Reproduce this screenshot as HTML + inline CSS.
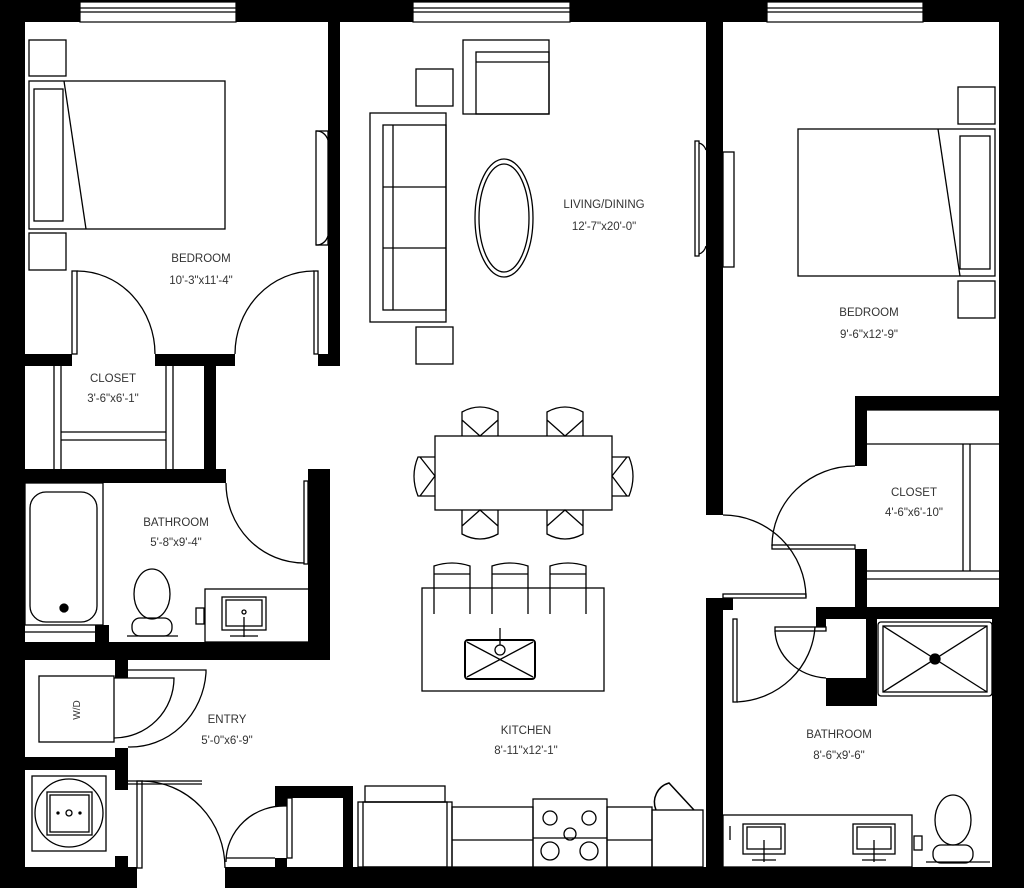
<!DOCTYPE html>
<html><head><meta charset="utf-8"><style>
html,body{margin:0;padding:0;background:#fff;}
svg{display:block;}
text{font-family:"Liberation Sans",sans-serif;font-size:11.5px;fill:#333;text-anchor:middle;}
</style></head><body>
<svg width="1024" height="888" viewBox="0 0 1024 888" xmlns="http://www.w3.org/2000/svg">
<g fill="#000">
<!-- outer walls -->
<rect x="0" y="0" width="1024" height="22"/>
<rect x="0" y="0" width="25" height="888"/>
<rect x="999" y="0" width="25" height="888"/>
<rect x="0" y="867" width="1024" height="21"/>
<!-- left bedroom/living wall -->
<rect x="328" y="22" width="12" height="344"/>
<rect x="25" y="354" width="47" height="12"/>
<rect x="155" y="354" width="80" height="12"/>
<rect x="318" y="354" width="22" height="12"/>
<rect x="204" y="366" width="12" height="104"/>
<!-- left bath -->
<rect x="25" y="469" width="201" height="14"/>
<rect x="308" y="469" width="22" height="191"/>
<rect x="25" y="642" width="305" height="18"/>
<rect x="95" y="625" width="14" height="17"/>
<!-- laundry / heater -->
<rect x="115" y="660" width="13" height="18"/>
<rect x="115" y="748" width="13" height="42"/>
<rect x="0" y="757" width="128" height="13"/>
<rect x="115" y="856" width="13" height="12"/>
<rect x="125" y="867" width="12" height="21"/>
<rect x="137" y="867" width="88" height="21" fill="#fff"/>
<!-- pantry -->
<rect x="275" y="786" width="78" height="12"/>
<rect x="275" y="786" width="12" height="20"/>
<rect x="275" y="858" width="12" height="10"/>
<rect x="343" y="786" width="10" height="82"/>
<!-- middle wall -->
<rect x="706" y="22" width="17" height="493"/>
<rect x="706" y="598" width="17" height="270"/>
<rect x="723" y="598" width="10" height="12"/>
<!-- right closet -->
<rect x="855" y="396" width="144" height="14"/>
<rect x="855" y="396" width="12" height="70"/>
<rect x="855" y="549" width="12" height="59"/>
<rect x="816" y="607" width="208" height="12"/>
<rect x="866" y="607" width="11" height="99"/>
<rect x="826" y="678" width="51" height="28"/>
<rect x="816" y="619" width="10" height="8"/>
<rect x="992" y="619" width="32" height="269"/>
</g>
<g fill="#fff" stroke="#000" stroke-width="1.2">
<!-- windows -->
<rect x="80" y="2" width="156" height="20"/><line x1="80" y1="8" x2="236" y2="8"/><line x1="80" y1="12" x2="236" y2="12"/>
<rect x="413" y="2" width="157" height="20"/><line x1="413" y1="8" x2="570" y2="8"/><line x1="413" y1="12" x2="570" y2="12"/>
<rect x="767" y="2" width="156" height="20"/><line x1="767" y1="8" x2="923" y2="8"/><line x1="767" y1="12" x2="923" y2="12"/>
</g>
<g fill="none" stroke="#000" stroke-width="1.3">
<!-- left bedroom -->
<rect x="29" y="40" width="37" height="36"/>
<rect x="29" y="233" width="37" height="37"/>
<rect x="29" y="81" width="196" height="148"/>
<rect x="34" y="89" width="29" height="132"/>
<line x1="64" y1="81" x2="86" y2="229"/>
<rect x="316" y="131" width="12" height="114"/>
<path d="M316 131 A12 14 0 0 1 328 140 M316 245 A12 14 0 0 0 328 236"/>
<rect x="72" y="271" width="5" height="83"/>
<path d="M77 271 A78 83 0 0 1 155 354"/>
<rect x="314" y="271" width="4" height="83"/>
<path d="M314 271 A79 83 0 0 0 235 354"/>
<!-- closet -->
<line x1="54" y1="366" x2="54" y2="469"/><line x1="61" y1="366" x2="61" y2="469"/>
<line x1="166" y1="366" x2="166" y2="469"/><line x1="173" y1="366" x2="173" y2="469"/>
<line x1="61" y1="432" x2="166" y2="432"/><line x1="61" y1="440" x2="166" y2="440"/>
<!-- living -->
<rect x="463" y="40" width="86" height="74"/>
<rect x="476" y="52" width="73" height="62"/><line x1="476" y1="62" x2="549" y2="62"/>
<rect x="416" y="69" width="37" height="37"/>
<rect x="370" y="113" width="76" height="209"/>
<rect x="383" y="125" width="63" height="185"/>
<line x1="393" y1="125" x2="393" y2="310"/>
<line x1="383" y1="187" x2="446" y2="187"/><line x1="383" y1="248" x2="446" y2="248"/>
<rect x="416" y="327" width="37" height="37"/>
<ellipse cx="504" cy="218" rx="29" ry="59"/>
<ellipse cx="504" cy="218" rx="25" ry="54"/>
<rect x="695" y="141" width="4" height="115"/>
<path d="M699 143 A10 12 0 0 1 706 150 M699 254 A10 12 0 0 0 706 246"/>
<rect x="723" y="152" width="11" height="115"/>
<!-- right bedroom -->
<rect x="958" y="87" width="37" height="37"/>
<rect x="958" y="281" width="37" height="37"/>
<rect x="798" y="129" width="197" height="147"/>
<rect x="960" y="136" width="30" height="133"/>
<line x1="938" y1="129" x2="960" y2="276"/>
<!-- right closet -->
<line x1="867" y1="410" x2="999" y2="410"/>
<line x1="963" y1="444" x2="963" y2="571"/><line x1="970" y1="444" x2="970" y2="571"/>
<line x1="867" y1="444" x2="999" y2="444"/>
<line x1="867" y1="571" x2="999" y2="571"/><line x1="867" y1="579" x2="999" y2="579"/>
<rect x="772" y="545" width="83" height="4"/>
<path d="M772 546 A83 80 0 0 1 855 466"/>
<!-- hall door -->
<rect x="723" y="594" width="83" height="4"/>
<path d="M723 515 A83 83 0 0 1 806 597"/>
<!-- right bath door -->
<rect x="733" y="619" width="4" height="83"/>
<path d="M737 702 A82 80 0 0 0 815 627"/>
<rect x="775" y="627" width="51" height="4"/>
<path d="M775 631 A55 49 0 0 0 826 678"/>
<!-- shower -->
<rect x="878" y="622" width="114" height="74" rx="3"/>
<rect x="883" y="626" width="104" height="66"/>
<line x1="883" y1="626" x2="987" y2="692"/><line x1="987" y1="626" x2="883" y2="692"/>
<circle cx="935" cy="659" r="5" fill="#000"/>
<!-- right bath vanity -->
<rect x="723" y="815" width="189" height="52"/>
<rect x="743" y="824" width="42" height="30"/><rect x="747" y="827" width="34" height="22"/>
<rect x="853" y="824" width="42" height="30"/><rect x="857" y="827" width="34" height="22"/>
<line x1="764" y1="840" x2="764" y2="862"/><line x1="874" y1="840" x2="874" y2="862"/>
<line x1="752" y1="860" x2="776" y2="860"/><line x1="862" y1="860" x2="886" y2="860"/>
<ellipse cx="953" cy="820" rx="18" ry="25"/>
<rect x="933" y="845" width="40" height="18" rx="8"/>
<line x1="926" y1="862" x2="990" y2="862"/>
<rect x="914" y="836" width="8" height="14"/>
<line x1="730" y1="826" x2="730" y2="840"/>
<!-- dining -->
<rect x="435" y="436" width="177" height="74"/>
<path d="M462 436 L462 412 Q480 402 498 412 L498 436 M462 420 L480 436 L498 420"/>
<path d="M547 436 L547 412 Q565 402 583 412 L583 436 M547 420 L565 436 L583 420"/>
<path d="M462 510 L462 534 Q480 544 498 534 L498 510 M462 526 L480 510 L498 526"/>
<path d="M547 510 L547 534 Q565 544 583 534 L583 510 M547 526 L565 510 L583 526"/>
<path d="M435 457 L418 457 Q410 476 418 496 L435 496 M420 457 L435 476 L420 496"/>
<path d="M612 457 L629 457 Q637 476 629 496 L612 496 M627 457 L612 476 L627 496"/>
<!-- island -->
<rect x="422" y="588" width="182" height="103"/>
<path d="M434 614 L434 566 Q452 560 470 566 L470 614 M434 574 L470 574"/>
<path d="M492 614 L492 566 Q510 560 528 566 L528 614 M492 574 L528 574"/>
<path d="M550 614 L550 566 Q568 560 586 566 L586 614 M550 574 L586 574"/>
<rect x="465" y="640" width="70" height="39" rx="3" stroke-width="2"/>
<line x1="467" y1="642" x2="533" y2="677"/><line x1="533" y1="642" x2="467" y2="677"/>
<circle cx="500" cy="650" r="5"/><line x1="500" y1="628" x2="500" y2="645"/>
<!-- kitchen -->
<rect x="365" y="786" width="80" height="16"/>
<rect x="358" y="802" width="94" height="65"/>
<rect x="363" y="802" width="84" height="65"/>
<rect x="452" y="807" width="81" height="60"/><line x1="452" y1="840" x2="533" y2="840"/>
<rect x="533" y="799" width="74" height="68"/><line x1="533" y1="838" x2="607" y2="838"/>
<circle cx="550" cy="818" r="7"/><circle cx="589" cy="818" r="7"/>
<circle cx="550" cy="851" r="9"/><circle cx="589" cy="851" r="9"/>
<circle cx="570" cy="834" r="6"/>
<rect x="607" y="807" width="45" height="60"/><line x1="607" y1="840" x2="652" y2="840"/>
<rect x="652" y="810" width="51" height="57"/>
<path d="M656 810 A20 20 0 0 1 669 783 L694 810" stroke-width="1.5"/>
<!-- pantry door -->
<path d="M226 862 A58 56 0 0 1 287 806"/>
<rect x="287" y="798" width="5" height="60"/><line x1="226" y1="858" x2="275" y2="858"/>
<!-- front door -->
<rect x="137" y="781" width="5" height="87"/>
<line x1="128" y1="781" x2="202" y2="781"/><line x1="128" y1="784" x2="202" y2="784"/>
<path d="M142 781 A84 87 0 0 1 225 868"/>
<!-- laundry -->
<rect x="39" y="676" width="75" height="66"/>
<path d="M128 670 L206 670 L206 673 A76 80 0 0 1 128 747"/>
<path d="M114 678 L174 678 A60 60 0 0 1 114 738"/>
<!-- heater -->
<rect x="32" y="776" width="74" height="75"/>
<circle cx="69" cy="813" r="34"/>
<rect x="47" y="792" width="45" height="43"/>
<rect x="50" y="795" width="39" height="37"/>
<circle cx="69" cy="813" r="3"/>
<circle cx="58" cy="813" r="1" fill="#000"/><circle cx="80" cy="813" r="1" fill="#000"/>
<!-- left bath -->
<rect x="25" y="483" width="78" height="142"/>
<rect x="30" y="492" width="67" height="130" rx="16"/>
<circle cx="64" cy="608" r="4" fill="#000"/>
<line x1="25" y1="632" x2="95" y2="632"/>
<rect x="304" y="481" width="4" height="83"/>
<path d="M226 483 A78 80 0 0 0 304 563"/>
<rect x="205" y="589" width="113" height="53"/>
<rect x="222" y="597" width="44" height="33"/><rect x="226" y="600" width="36" height="26"/>
<circle cx="244" cy="612" r="2"/><line x1="244" y1="617" x2="244" y2="637"/>
<line x1="230" y1="636" x2="258" y2="636"/>
<rect x="196" y="608" width="8" height="16"/>
<line x1="310" y1="614" x2="310" y2="635"/>
<ellipse cx="152" cy="594" rx="18" ry="25"/>
<rect x="132" y="618" width="40" height="18" rx="8"/>
<line x1="127" y1="636" x2="178" y2="636"/>
</g>
<!-- labels -->
<text x="201" y="262">BEDROOM</text>
<text x="201" y="284">10'-3"x11'-4"</text>
<text x="604" y="208">LIVING/DINING</text>
<text x="604" y="230">12'-7"x20'-0"</text>
<text x="869" y="316">BEDROOM</text>
<text x="869" y="338">9'-6"x12'-9"</text>
<text x="113" y="382">CLOSET</text>
<text x="113" y="402">3'-6"x6'-1"</text>
<text x="176" y="526">BATHROOM</text>
<text x="176" y="546">5'-8"x9'-4"</text>
<text x="914" y="496">CLOSET</text>
<text x="914" y="516">4'-6"x6'-10"</text>
<text x="227" y="723">ENTRY</text>
<text x="227" y="744">5'-0"x6'-9"</text>
<text x="526" y="734">KITCHEN</text>
<text x="526" y="754">8'-11"x12'-1"</text>
<text x="839" y="738">BATHROOM</text>
<text x="839" y="759">8'-6"x9'-6"</text>
<text x="0" y="0" transform="translate(80 710) rotate(-90)" style="font-size:10px">W/D</text>
</svg>
</body></html>
